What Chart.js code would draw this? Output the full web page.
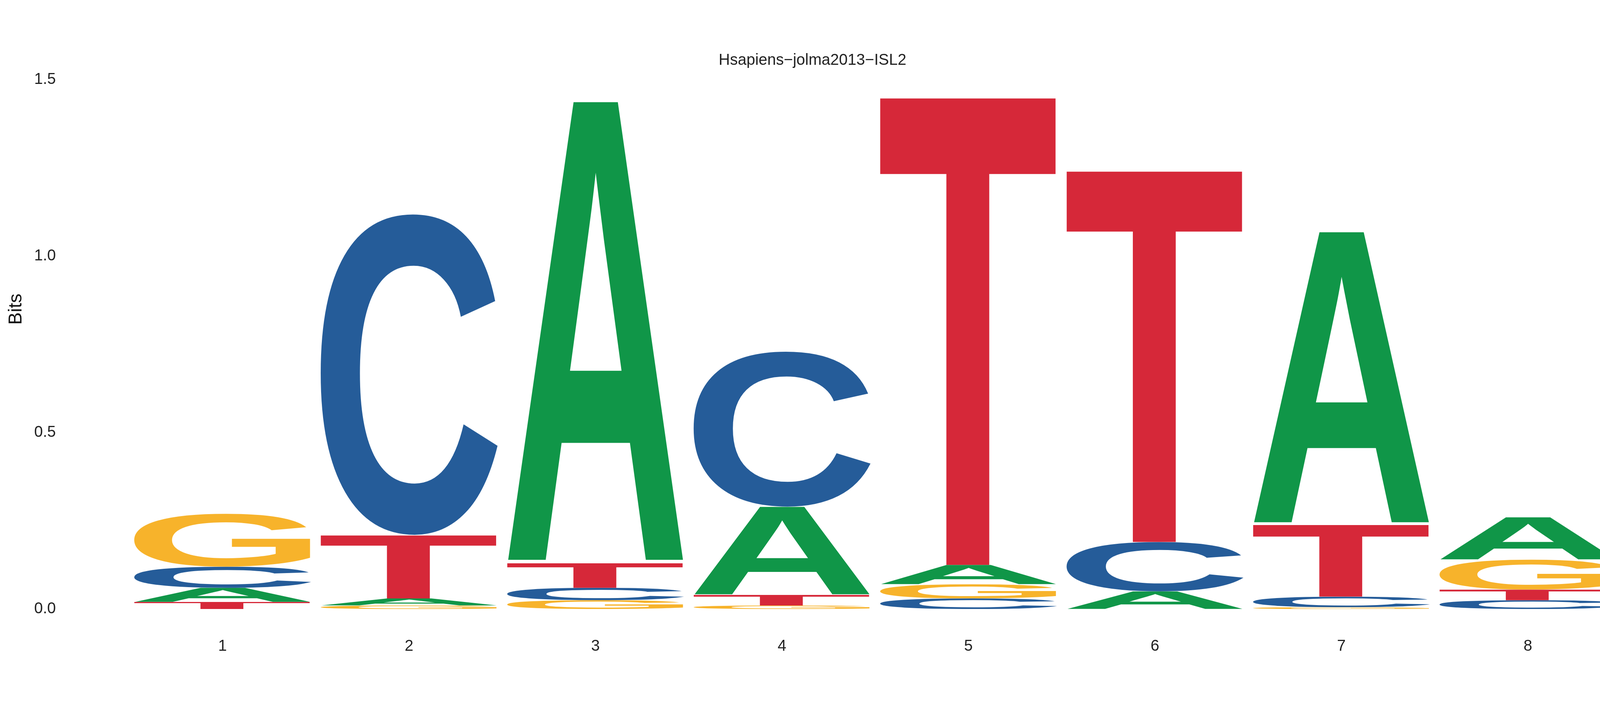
<!DOCTYPE html>
<html><head><meta charset="utf-8">
<script src="https://cdn.jsdelivr.net/npm/chart.js@4.4.0/dist/chart.umd.min.js"></script>
<style>html,body{margin:0;padding:0;background:#fff}</style>
</head><body>
<canvas id="c" width="4350" height="1829"></canvas>
<script>
const positions = ['1','2','3','4','5','6','7','8'];
const letters = ['A','C','G','T'];
const colors = {A:'#109648', C:'#255C99', G:'#F7B32B', T:'#D62839'};
// bottom-to-top stack order and heights (bits) per position
const order = [
  ['T','A','C','G'],
  ['G','A','T','C'],
  ['G','C','T','A'],
  ['G','T','A','C'],
  ['C','G','A','T'],
  ['A','C','T'],
  ['G','C','T','A'],
  ['C','T','G','A']
];
const heights = [
  [0.02,0.04,0.06,0.15],
  [0.01,0.02,0.18,0.91],
  [0.025,0.035,0.07,1.31],
  [0.01,0.03,0.25,0.44],
  [0.03,0.04,0.055,1.335],
  [0.05,0.14,1.06],
  [0.005,0.03,0.205,0.83],
  [0.025,0.03,0.085,0.12]
];
const yTicks = [0, 0.5, 1.0, 1.5];

const datasets = letters.map(L => {
  const data = positions.map((p,i) => {
    let lo = 0;
    for (let k=0;k<order[i].length;k++){
      const hi = lo + heights[i][k];
      if (order[i][k]===L) return [lo,hi];
      lo = hi;
    }
    return null;
  });
  return {label:L, data, backgroundColor:'rgba(0,0,0,0)', borderWidth:0, grouped:false,
          barPercentage:0.95, categoryPercentage:1.0};
});

const glyphPlugin = {
  id:'glyphs',
  afterDatasetsDraw(chart){
    const ctx = chart.ctx;
    chart.data.datasets.forEach((ds,di)=>{
      const meta = chart.getDatasetMeta(di);
      meta.data.forEach((el,i)=>{
        if (!ds.data[i]) return;
        const {x,y,base,width} = el.getProps(['x','y','base','width'],true);
        const top = Math.min(y,base), bot = Math.max(y,base), h = bot-top;
        if (h <= 0.5) return;
        ctx.save();
        ctx.font = 'bold 200px "Liberation Sans", Arial, sans-serif';
        const m = ctx.measureText(ds.label);
        const gw = m.actualBoundingBoxLeft + m.actualBoundingBoxRight;
        const gh = m.actualBoundingBoxAscent + m.actualBoundingBoxDescent;
        ctx.translate(x - width/2, top);
        ctx.scale(width/gw, h/gh);
        ctx.fillStyle = colors[ds.label];
        ctx.textBaseline = 'alphabetic';
        ctx.fillText(ds.label, m.actualBoundingBoxLeft, m.actualBoundingBoxAscent);
        ctx.restore();
      });
    });
    // y-axis title
    ctx.save();
    ctx.translate(42, (chart.chartArea.top + chart.chartArea.bottom)/2 - 90);
    ctx.rotate(-Math.PI/2);
    ctx.font = '48px "Liberation Sans", Arial, sans-serif';
    ctx.fillStyle = '#111';
    ctx.textAlign = 'center';
    ctx.textBaseline = 'middle';
    ctx.fillText('Bits', 0, 0);
    ctx.restore();
  }
};

new Chart(document.getElementById('c'), {
  type:'bar',
  data:{labels:positions, datasets},
  options:{
    responsive:false, animation:false, devicePixelRatio:1,
    layout:{padding:{left:10,right:200,top:20,bottom:85}},
    plugins:{
      legend:{display:false}, tooltip:{enabled:false},
      title:{display:true, text:'Hsapiens\u2212jolma2013\u2212ISL2', color:'#222',
             font:{size:40,family:'"Liberation Sans", Arial, sans-serif',weight:'normal'}, padding:{top:7,bottom:25}}
    },
    scales:{
      x:{grid:{display:false}, border:{display:false},
         ticks:{color:'#222', font:{size:40,family:'"Liberation Sans", Arial'}, padding:64}},
      y:{min:0, max:1.5, grid:{display:false}, border:{display:false},
         afterBuildTicks(s){ s.ticks = yTicks.map(v=>({value:v})); },
         afterFit(s){ s.width = 321; },
         ticks:{color:'#222', font:{size:40,family:'"Liberation Sans", Arial'}, padding:180,
                callback:v=>Number(v).toFixed(1)}}
    }
  },
  plugins:[glyphPlugin]
});
</script>
</body></html>
